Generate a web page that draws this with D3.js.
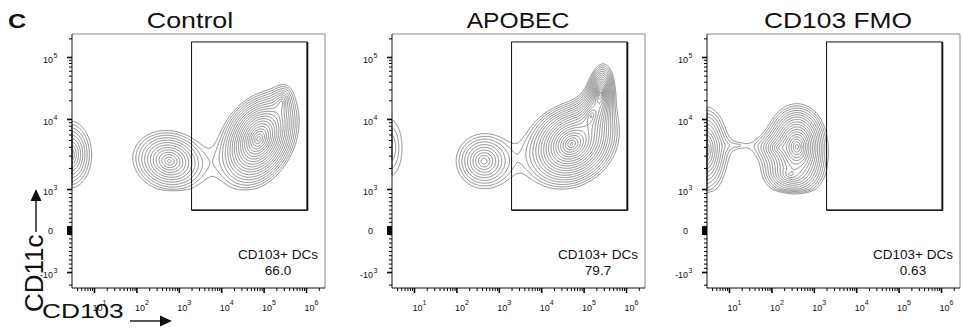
<!DOCTYPE html>
<html>
<head>
<meta charset="utf-8">
<script src="https://cdn.jsdelivr.net/npm/d3@7"></script>
<style>
  body { margin: 0; background: #fff; }
  text { font-family: "Liberation Sans", Arial, sans-serif; fill: #111; }
</style>
</head>
<body>
<svg id="chart" width="963" height="336"></svg>
<script>
// ---- data ----
const panelTitles = ["Control", "APOBEC", "CD103 FMO"];
const gateName = "CD103+ DCs";
const gatePercents = ["66.0", "79.7", "0.63"];
const gateCD103 = [2000, 1.05e6];
const gateCD11c = [490, 1.75e5];
const xTickExps = [1, 2, 3, 4, 5, 6];
const yTickValues = [-1000, 0, 1000, 10000, 100000];
const yTickLabels = [["-10", "3"], ["0", ""], ["10", "3"], ["10", "4"], ["10", "5"]];

// populations: [CD103 centre, CD11c centre, CD103 spread (decades), CD11c spread (display units), correlation, peak density]
const controlPops = [
  [2.7, 3100, 0.27, 0.26, 0, 0.075],
  [600, 2500, 0.37, 0.19, -0.1, 0.12],
  [7.6e4, 5200, 0.26, 0.20, 0.3, 0.45],
  [2.6e5, 1.8e4, 0.14, 0.16, 0.3, 0.04]
];
const apobecPops = [
  [2.6, 3900, 0.40, 0.55, 0, 0.025],
  [450, 2500, 0.35, 0.21, 0, 0.075],
  [5.2e4, 4400, 0.31, 0.18, 0.2, 0.42],
  [1.5e5, 1.1e4, 0.16, 0.16, 0.4, 0.12],
  [2.5e5, 2.6e4, 0.11, 0.17, 0.2, 0.18]
];
const fmoPops = [
  [2.7, 3600, 0.24, 0.29, 0, 0.11],
  [16, 4200, 0.45, 0.08, 0, 0.010],
  [400, 4000, 0.22, 0.20, 0, 0.30],
  [160, 3900, 0.28, 0.10, 0, 0.05],
  [275, 1600, 0.30, 0.12, 0, 0.06]
];
const panelPops = [controlPops, apobecPops, fmoPops];

// ---- layout ----
const frameTop = 34, frameW = 253, frameH = 254;
const panelLeft = [72, 392, 707];
const titleCentre = [118, 126, 131];
const titleStretch = [1.22, 1.12, 1.2];

const svg = d3.select("#chart");

// logicle-like display for CD11c: linear within +-1000, log above
function cd11c(v) {
  const a = Math.abs(v);
  const t = a <= 1000 ? a / 1000 : 1 + Math.log10(a / 1000);
  return v < 0 ? -t : t;
}

const xScale = d3.scaleLog().domain([10, 1e6]).range([22, 234]);
const yScale = d3.scaleLinear().domain([-1, 0, 1, 2, 3]).range([272, 230, 189, 119, 57]);

// contour levels, geometric
const thresholds = d3.range(28).map(i => 0.012 * Math.pow(1.2, i));

// each population falls off exponentially with its (correlated) distance
function density(pops, xd, yt) {
  let s = 0;
  for (const [cx, cy, sx, sy, rho, w] of pops) {
    const zx = (xd - Math.log10(cx)) / sx;
    const zy = (yt - cd11c(cy)) / sy;
    const q = (zx * zx - 2 * rho * zx * zy + zy * zy) / (1 - rho * rho);
    s += w * Math.exp(-Math.sqrt(q));
  }
  return s;
}

// panel letter
svg.append("text")
  .attr("transform", "translate(8,28) scale(1.2,1)")
  .attr("font-size", 21).attr("font-weight", "bold")
  .text("C");

panelTitles.forEach((title, p) => {
  const g = svg.append("g").attr("transform", `translate(${panelLeft[p]},0)`);

  g.append("text")
    .attr("transform", `translate(${titleCentre[p]},28) scale(${titleStretch[p]},1)`)
    .attr("text-anchor", "middle")
    .attr("font-size", 22)
    .text(title);

  // density grid over the frame, one cell per pixel
  const gw = frameW, gh = frameH;
  const values = new Float64Array(gw * gh);
  for (let j = 0; j < gh; j++) {
    const yt = yScale.invert(frameTop + j + 0.5);
    for (let i = 0; i < gw; i++) {
      const xd = Math.log10(xScale.invert(i + 0.5));
      values[j * gw + i] = density(panelPops[p], xd, yt);
    }
  }
  const contours = d3.contours().size([gw, gh]).thresholds(thresholds)(values);
  g.append("g")
    .attr("transform", `translate(0,${frameTop})`)
    .selectAll("path")
    .data(contours)
    .join("path")
    .attr("d", d3.geoPath())
    .attr("fill", "none")
    .attr("stroke", "#666")
    .attr("stroke-width", 0.75);

  // frame: top and right grey, left and bottom black
  g.append("line").attr("x1", 0).attr("x2", frameW).attr("y1", frameTop).attr("y2", frameTop)
    .attr("stroke", "#8a8a8a").attr("stroke-width", 1);
  g.append("line").attr("x1", frameW).attr("x2", frameW).attr("y1", frameTop).attr("y2", frameTop + frameH)
    .attr("stroke", "#8a8a8a").attr("stroke-width", 1);
  g.append("line").attr("x1", 0).attr("x2", 0).attr("y1", frameTop).attr("y2", frameTop + frameH)
    .attr("stroke", "#111").attr("stroke-width", 1);
  g.append("line").attr("x1", 0).attr("x2", frameW).attr("y1", frameTop + frameH).attr("y2", frameTop + frameH)
    .attr("stroke", "#111").attr("stroke-width", 1);

  // x axis ticks
  const xMajor = xTickExps.map(e => Math.pow(10, e));
  const xMinor = [];
  for (let e = 0; e <= 6; e++) {
    for (let k = 2; k <= 9; k++) {
      const v = k * Math.pow(10, e);
      const px = xScale(v);
      if (px > 1 && px < frameW - 1) xMinor.push(v);
    }
  }
  const xAxisG = g.append("g").attr("transform", `translate(0,${frameTop + frameH})`);
  xAxisG.append("g").call(d3.axisBottom(xScale).tickValues(xMinor).tickSize(3).tickFormat(""))
    .call(s => s.select(".domain").remove());
  xAxisG.append("g").call(d3.axisBottom(xScale).tickValues(xMajor).tickSize(5).tickFormat(""))
    .call(s => s.select(".domain").remove())
    .call(s => s.selectAll("line").attr("stroke-width", 1.6));
  xTickExps.forEach(e => {
    const x = xScale(Math.pow(10, e));
    g.append("text").attr("x", x - 1.5).attr("y", 311).attr("font-size", 9).text("10");
    g.append("text").attr("x", x + 8.5).attr("y", 305).attr("font-size", 7).text(e);
  });

  // y axis ticks
  const yMinor = [];
  for (let e = 3; e <= 5; e++) {
    for (let k = 2; k <= 9; k++) {
      const v = k * Math.pow(10, e);
      if (yScale(cd11c(v)) > frameTop + 1) yMinor.push(v);
    }
  }
  for (let k = 1; k <= 9; k++) { yMinor.push(k * 100, -k * 100); }
  yMinor.push(-2000);
  const yZero = [];
  for (let k = 1; k <= 9; k++) { yZero.push(k * 10, -k * 10); }

  const yAxisG = g.append("g");
  yAxisG.append("g").call(d3.axisLeft(yScale).tickValues(yMinor.map(cd11c)).tickSize(3).tickFormat(""))
    .call(s => s.select(".domain").remove());
  yAxisG.append("g").call(d3.axisLeft(yScale).tickValues(yZero.map(cd11c)).tickSize(5).tickFormat(""))
    .call(s => s.select(".domain").remove())
    .call(s => s.selectAll("line").attr("stroke-width", 1.2));
  yAxisG.append("g").call(d3.axisLeft(yScale).tickValues(yTickValues.map(cd11c)).tickSize(5).tickFormat(""))
    .call(s => s.select(".domain").remove())
    .call(s => s.selectAll("line").attr("stroke-width", 1.6));
  yTickValues.forEach((v, i) => {
    const [base, sup] = yTickLabels[i];
    const y = yScale(cd11c(v));
    g.append("text")
      .attr("x", -19)
      .attr("y", sup ? y + 6 : y + 3.5)
      .attr("text-anchor", "end")
      .attr("font-size", 9)
      .text(base);
    if (sup) {
      g.append("text").attr("x", -18.5).attr("y", y + 1).attr("font-size", 7).text(sup);
    }
  });

  // gate
  const gx0 = xScale(gateCD103[0]), gx1 = xScale(gateCD103[1]);
  const gy0 = yScale(cd11c(gateCD11c[1])), gy1 = yScale(cd11c(gateCD11c[0]));
  g.append("rect")
    .attr("x", gx0).attr("y", gy0).attr("width", gx1 - gx0).attr("height", gy1 - gy0)
    .attr("fill", "none").attr("stroke", "#111").attr("stroke-width", 1);
  g.append("line").attr("x1", gx1 + 0.7).attr("x2", gx1 + 0.7).attr("y1", gy0).attr("y2", gy1 + 0.7)
    .attr("stroke", "#111").attr("stroke-width", 1.4);
  g.append("line").attr("x1", gx0).attr("x2", gx1 + 0.7).attr("y1", gy1 + 0.5).attr("y2", gy1 + 0.5)
    .attr("stroke", "#111").attr("stroke-width", 1);

  g.append("text")
    .attr("x", frameW - 47).attr("y", 259)
    .attr("text-anchor", "middle").attr("font-size", 13.5)
    .text(gateName);
  g.append("text")
    .attr("x", frameW - 47).attr("y", 275)
    .attr("text-anchor", "middle").attr("font-size", 13.5)
    .text(gatePercents[p]);
});

// axis titles with arrows
svg.append("text")
  .attr("transform", "translate(43,312) rotate(-90)")
  .attr("font-size", 26)
  .text("CD11c");
svg.append("line").attr("x1", 36).attr("x2", 36).attr("y1", 232).attr("y2", 200)
  .attr("stroke", "#111").attr("stroke-width", 1.4);
svg.append("path").attr("d", "M36,189 L30.5,201 L41.5,201 Z").attr("fill", "#111");

svg.append("text")
  .attr("transform", "translate(42,318) scale(1.25,1)")
  .attr("font-size", 21)
  .text("CD103");
svg.append("line").attr("x1", 130).attr("x2", 162).attr("y1", 321).attr("y2", 321)
  .attr("stroke", "#111").attr("stroke-width", 1.4);
svg.append("path").attr("d", "M172,321 L160,315.5 L160,326.5 Z").attr("fill", "#111");
</script>
</body>
</html>
